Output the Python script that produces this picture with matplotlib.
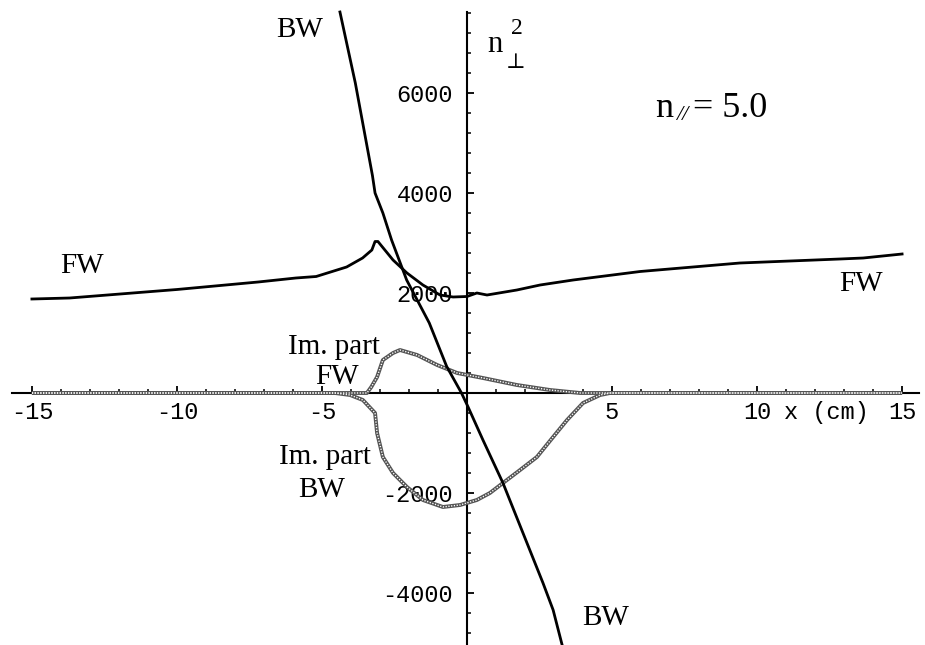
import numpy as np
import matplotlib
matplotlib.use("Agg")
import matplotlib.pyplot as plt
from matplotlib.ticker import FixedLocator


# Real parts of n_perp^2 for the fast and Bernstein waves (n_par = 5.0)
fw_x = [-15.0, -13.7, -10.0, -7.2, -5.9, -5.2, -4.15, -3.6, -3.28, -3.17,
        -3.07, -2.93, -2.55, -2.07, -1.52, -0.93, -0.48, 0.0, 0.34, 0.69,
        1.72, 2.52, 3.66, 5.97, 9.41, 12.86, 13.66, 15.0]
fw_y = [1880, 1900, 2070, 2220, 2300, 2330, 2520, 2700, 2860, 3030,
        3030, 2930, 2660, 2400, 2160, 1960, 1920, 1930, 2000, 1960,
        2060, 2160, 2260, 2430, 2600, 2680, 2700, 2780]

bw_x = [-4.38, -3.85, -3.26, -3.17, -2.90, -2.60, -2.08,
        -1.30, -0.70, -0.19, 0.03, 0.55, 1.24, 1.93, 2.62, 2.97, 3.28]
bw_y = [7620, 6200, 4350, 4000, 3600, 3060, 2260,
        1400, 530, 0, -270, -940, -1800, -2800, -3800, -4340, -5040]

# Imaginary parts
im_fw_x = [-15.0, -3.45, -3.30, -3.10, -2.90, -2.55, -2.31, -1.72, -1.03,
           -0.34, 0.55, 1.72, 2.86, 3.9, 15.0]
im_fw_y = [0, 0, 120, 320, 660, 800, 860, 760, 560,
           400, 300, 160, 60, 0, 0]

im_bw_x = [-15.0, -4.55, -4.03, -3.59, -3.17, -3.10, -2.90, -2.55, -2.07,
           -1.52, -0.83, -0.24, 0.34, 0.79, 1.24, 1.83, 2.41, 2.97, 3.45,
           4.0, 4.59, 4.93, 15.0]
im_bw_y = [0, 0, -40, -140, -400, -800, -1280, -1600, -1880,
           -2140, -2280, -2240, -2140, -2000, -1800, -1540, -1280, -880, -540,
           -200, -40, 0, 0]

x_ticks = [-15, -10, -5, 5, 10, 15]
x_tick_labels = ["-15", "-10", "-5", "5", "10", "15"]
y_ticks = [-4000, -2000, 2000, 4000, 6000]
y_tick_labels = ["-4000", "-2000", "2000", "4000", "6000"]

SERIF = "Liberation Serif"
MONO = "Liberation Mono"


def draw_hatched(ax, x, y):
    # rope-like gray trace: dark body with light dots on top
    ax.plot(x, y, color="0.33", lw=2.8, zorder=3, solid_capstyle="butt")
    ax.plot(x, y, color="white", lw=1.0, zorder=4,
            linestyle=(0, (0.9, 1.1)))


fig = plt.figure(figsize=(9.25, 6.45), dpi=100)
ax = fig.add_axes([0, 0, 1, 1])
ax.set_xlim(-16.10, 15.79)
ax.set_ylim(-5040, 7860)

# axes through the origin
for side in ["top", "right"]:
    ax.spines[side].set_visible(False)
ax.spines["left"].set_position(("data", 0))
ax.spines["bottom"].set_position(("data", 0))
ax.spines["left"].set_bounds(-5040, 7620)
ax.spines["bottom"].set_bounds(-15.7, 15.6)
ax.spines["left"].set_linewidth(1.5)
ax.spines["bottom"].set_linewidth(1.5)

ax.xaxis.set_major_locator(FixedLocator(x_ticks))
ax.xaxis.set_minor_locator(FixedLocator(np.arange(-15, 16, 1)))
ax.set_xticklabels(x_tick_labels)
ax.yaxis.set_major_locator(FixedLocator(y_ticks))
ax.yaxis.set_minor_locator(FixedLocator(np.arange(-4800, 7601, 400)))
ax.set_yticklabels(y_tick_labels)

ax.tick_params(axis="x", which="major", direction="in", length=5, width=1.3,
               pad=6, labelsize=17)
ax.tick_params(axis="x", which="minor", direction="in", length=3, width=1.1)
ax.tick_params(axis="y", which="major", direction="in", length=5, width=1.3,
               pad=10, labelsize=17)
ax.tick_params(axis="y", which="minor", direction="in", length=3, width=1.1)
for lab in ax.get_xticklabels() + ax.get_yticklabels():
    lab.set_fontfamily(MONO)

# curves
ax.plot(fw_x, fw_y, color="black", lw=2.0, zorder=5)
ax.plot(bw_x, bw_y, color="black", lw=2.0, zorder=5)
draw_hatched(ax, im_fw_x, im_fw_y)
draw_hatched(ax, im_bw_x, im_bw_y)

# annotations
ax.text(12.38, -380, "x (cm)", fontfamily=MONO, fontsize=17,
        ha="center", va="center")
ax.text(-5.76, 7260, "BW", fontfamily=SERIF, fontsize=21,
        ha="center", va="center")
ax.text(0.97, 6980, "n", fontfamily=SERIF, fontsize=22,
        ha="center", va="center")
ax.text(1.72, 7280, "2", fontfamily=SERIF, fontsize=17,
        ha="center", va="center")
ax.text(1.66, 6620, "\u22a5", fontfamily="DejaVu Serif", fontsize=15,
        ha="center", va="center")
ax.text(6.48, 5520, "n", fontfamily=SERIF, fontsize=26,
        ha="left", va="baseline")
ax.text(7.2, 5460, "//", fontfamily=SERIF, fontsize=16, style="italic",
        ha="left", va="baseline")
ax.text(7.8, 5520, "= 5.0", fontfamily=SERIF, fontsize=26,
        ha="left", va="baseline")
ax.text(-13.28, 2540, "FW", fontfamily=SERIF, fontsize=21,
        ha="center", va="center")
ax.text(13.59, 2180, "FW", fontfamily=SERIF, fontsize=21,
        ha="center", va="center")
ax.text(-4.59, 920, "Im. part", fontfamily=SERIF, fontsize=21,
        ha="center", va="center")
ax.text(-4.48, 320, "FW", fontfamily=SERIF, fontsize=21,
        ha="center", va="center")
ax.text(-4.9, -1280, "Im. part", fontfamily=SERIF, fontsize=21,
        ha="center", va="center")
ax.text(-5.0, -1940, "BW", fontfamily=SERIF, fontsize=21,
        ha="center", va="center")
ax.text(4.79, -4500, "BW", fontfamily=SERIF, fontsize=21,
        ha="center", va="center")

fig.savefig("out.png", dpi=100)
